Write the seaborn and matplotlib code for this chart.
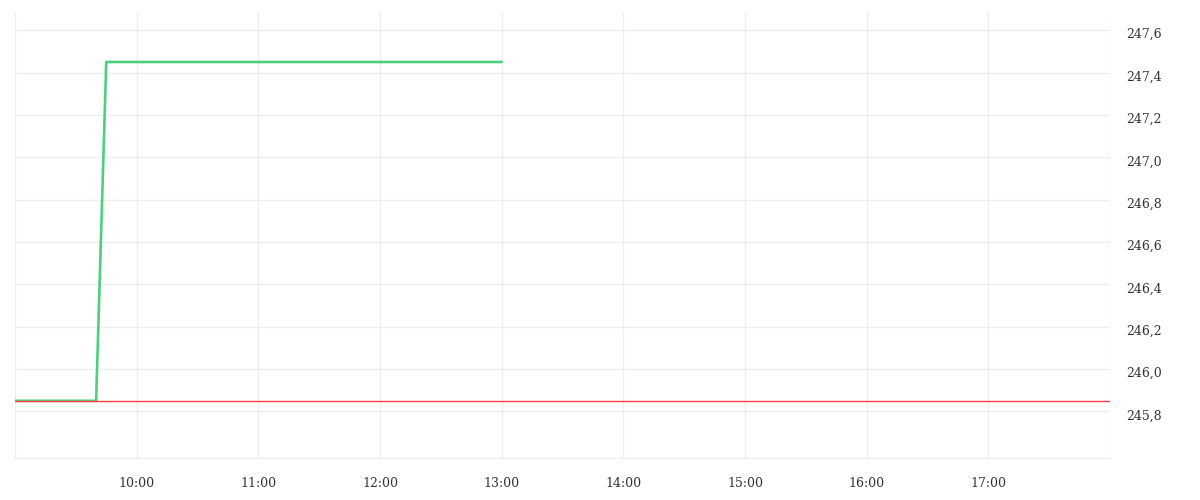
import matplotlib
matplotlib.use("Agg")
import matplotlib.pyplot as plt
import matplotlib.dates as mdates
import matplotlib.ticker as mticker
import matplotlib.transforms as mtransforms
import seaborn as sns
import pandas as pd

# Data
green_times = ["09:00", "09:40", "09:45", "13:00"]
green_values = [245.85, 245.85, 247.45, 247.45]
red_times = ["09:00", "18:00"]
red_values = [245.85, 245.85]
hour_ticks = ["09:00", "10:00", "11:00", "12:00", "13:00", "14:00", "15:00", "16:00", "17:00", "18:00"]
y_ticks = [245.8, 246.0, 246.2, 246.4, 246.6, 246.8, 247.0, 247.2, 247.4, 247.6]

day = "2024-01-02 "
to_dt = lambda ts: pd.to_datetime([day + t for t in ts])

green_df = pd.DataFrame({"time": to_dt(green_times), "value": green_values})
red_df = pd.DataFrame({"time": to_dt(red_times), "value": red_values})

sns.set_theme(style="white")
plt.rcParams["font.family"] = ["DejaVu Serif"]

grid_color = "#ededed"
fig = plt.figure(figsize=(12, 5), dpi=100)
ax = fig.add_axes([0.0125, 0.084, 0.9125, 0.892])

sns.lineplot(data=green_df, x="time", y="value", ax=ax, color="#4cd07d", linewidth=1.9)
sns.lineplot(data=red_df, x="time", y="value", ax=ax, color="#ff3b45", linewidth=1.0)

ax.set_xlim(to_dt(["09:00"])[0], to_dt(["18:00"])[0])
ax.set_ylim(245.58, 247.686)

xt = to_dt(hour_ticks)
ax.set_xticks(xt)
ax.xaxis.set_major_formatter(mticker.FuncFormatter(
    lambda v, p: "" if mdates.num2date(v).hour in (9, 18) else mdates.num2date(v).strftime("%H:%M")))
ax.set_yticks(y_ticks)
ax.yaxis.set_major_formatter(mticker.FuncFormatter(lambda v, p: f"{v:.1f}".replace(".", ",")))
ax.yaxis.tick_right()

ax.grid(True, color=grid_color, linewidth=0.9)
for s in ["top", "left", "right"]:
    ax.spines[s].set_visible(False)
ax.spines["bottom"].set_color(grid_color)
ax.spines["bottom"].set_linewidth(0.9)

ax.tick_params(axis="x", length=8, color=grid_color, width=0.9, pad=6, labelsize=9, labelcolor="#333333")
ax.tick_params(axis="y", length=0, pad=12, labelsize=9, labelcolor="#333333")
ax.set_xlabel("")
ax.set_ylabel("")

offset = mtransforms.ScaledTranslation(0, -3 / 100, fig.dpi_scale_trans)
for lbl in ax.get_yticklabels():
    lbl.set_transform(lbl.get_transform() + offset)

fig.savefig("out.png", dpi=100, facecolor="white")
